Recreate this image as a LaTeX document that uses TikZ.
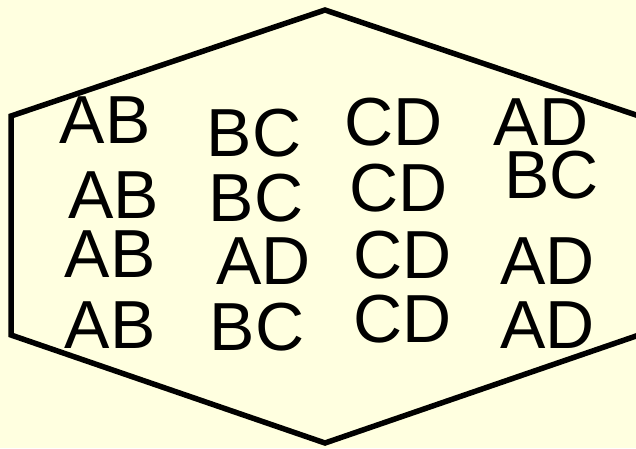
\documentclass[tikz,border=0pt]{standalone}
\usepackage{fontspec}
\setmainfont{Liberation Sans}
\definecolor{bgyellow}{HTML}{FFFFE0}
\begin{document}
\begin{tikzpicture}[x=1pt,y=-1pt,
  lbl/.style={anchor=base,inner sep=0pt,font=\fontsize{68}{82}\selectfont},
  hexline/.style={draw=black,line width=5.5pt,line join=miter}]
\useasboundingbox (0,0) rectangle (636,448);
\fill[bgyellow] (0,0) rectangle (636,448);
\clip (0,0) rectangle (636,448);
\draw[hexline] (11,116) -- (325,10) -- (639,116) -- (639,335) -- (325,443) -- (11,335) -- cycle;
\node[lbl] (ab1) at (105,143) {AB};
\node[lbl] (bc1) at (254,156) {BC};
\node[lbl] (cd1) at (393.5,145) {CD};
\node[lbl] (ad1) at (541,145) {AD};
\node[lbl] (ab2) at (113.5,218) {AB};
\node[lbl] (bc2) at (256,221) {BC};
\node[lbl] (cd2) at (399,211) {CD};
\node[lbl] (bc3) at (551.5,198) {BC};
\node[lbl] (ab3) at (110,277) {AB};
\node[lbl] (ad2) at (263.5,284) {AD};
\node[lbl] (cd3) at (402.5,278) {CD};
\node[lbl] (ad3) at (547.5,284) {AD};
\node[lbl] (ab4) at (110,348) {AB};
\node[lbl] (bc4) at (257,350) {BC};
\node[lbl] (cd4) at (402.5,342) {CD};
\node[lbl] (ad4) at (547.5,348) {AD};
\end{tikzpicture}
\end{document}
